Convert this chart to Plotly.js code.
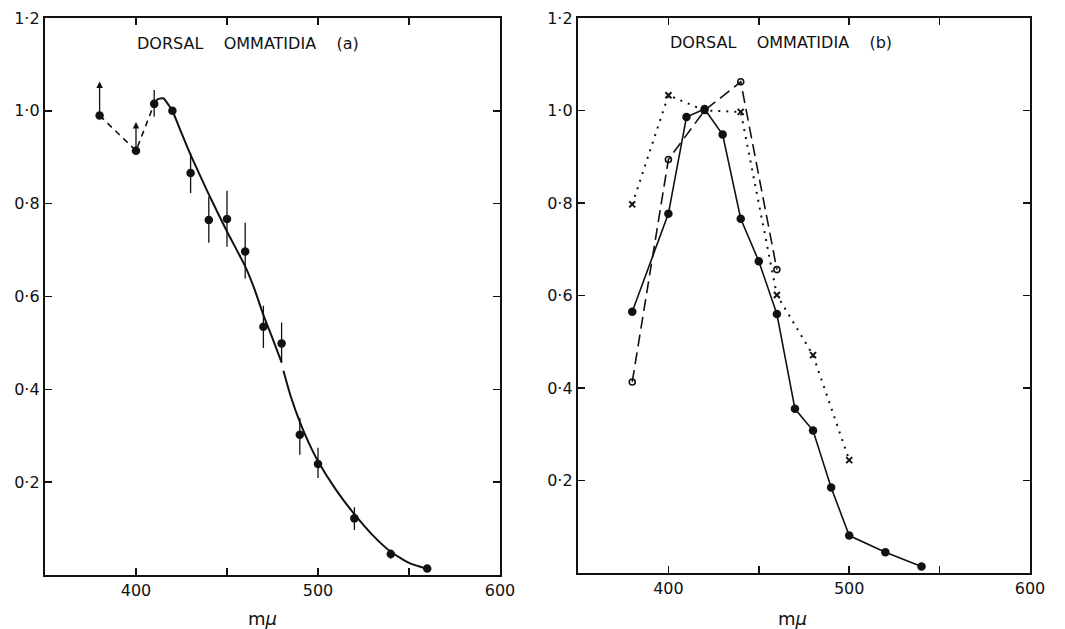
<!DOCTYPE html>
<html>
<head>
<meta charset="utf-8">
<script src="https://cdn.plot.ly/plotly-3.0.1.min.js"></script>
<style>html,body{margin:0;padding:0;background:#fff;}#chart{width:1065px;height:629px;}</style>
</head>
<body>
<div id="chart"></div>
<script>
// ---- Panel (a) data ----
const aX = [380, 400, 410, 420, 430, 440, 450, 460, 470, 480, 490, 500, 520, 540, 560];
const aY = [0.99, 0.914, 1.015, 1.0, 0.866, 0.765, 0.767, 0.697, 0.535, 0.499, 0.302, 0.239, 0.122, 0.045, 0.014];
const aErrPlus  = [0, 0, 0.03, 0, 0.043, 0.05, 0.061, 0.062, 0.045, 0.045, 0.036, 0.035, 0.024, 0.01, 0];
const aErrMinus = [0, 0, 0.028, 0, 0.043, 0.049, 0.06, 0.058, 0.046, 0.042, 0.043, 0.03, 0.025, 0.01, 0];
const aArrowX = [380, 400];
const aArrowFrom = [0.99, 0.914];
const aArrowTo = [1.063, 0.976];
const aDashX = [380, 400, 410];
const aDashY = [0.99, 0.914, 1.015];
const aCurveX = [409, 412, 415, 418, 420, 425, 430, 440, 450, 460, 465, 470, 475, 480, null, 481, 485, 490, 495, 500, 510, 520, 530, 540, 550, 560];
const aCurveY = [1.01, 1.025, 1.027, 1.012, 1.0, 0.952, 0.905, 0.82, 0.74, 0.665, 0.617, 0.56, 0.51, 0.458, null, 0.44, 0.385, 0.33, 0.284, 0.245, 0.183, 0.131, 0.086, 0.05, 0.026, 0.013];

// ---- Panel (b) data ----
const bSolidX = [380, 400, 410, 420, 430, 440, 450, 460, 470, 480, 490, 500, 520, 540];
const bSolidY = [0.565, 0.777, 0.986, 1.003, 0.948, 0.766, 0.674, 0.56, 0.355, 0.308, 0.185, 0.081, 0.045, 0.014];
const bOpenX = [380, 400, 420, 440, 460];
const bOpenY = [0.413, 0.894, 1.0, 1.062, 0.656];
const bCrossX = [380, 400, 420, 440, 460, 480, 500];
const bCrossY = [0.797, 1.033, 1.0, 0.997, 0.601, 0.471, 0.244];

// ---- Axis labels ----
const xTickVals = [400, 450, 500, 550, 600];
const xTickText = ['400', '', '500', '', '600'];
const yTickVals = [0.2, 0.4, 0.6, 0.8, 1.0, 1.2];
const yTickText = ['0·2', '0·4', '0·6', '0·8', '1·0', '1·2'];
const titleA = 'DORSAL\u00A0\u00A0\u00A0\u00A0OMMATIDIA\u00A0\u00A0\u00A0\u00A0(a)';
const titleB = 'DORSAL\u00A0\u00A0\u00A0\u00A0OMMATIDIA\u00A0\u00A0\u00A0\u00A0(b)';
const xLabel = 'm<i>μ</i>';

const FONT = 'DejaVu Sans, sans-serif';

const traces = [
  {x: aDashX, y: aDashY, xaxis: 'x', yaxis: 'y', mode: 'lines',
   line: {color: '#111', width: 1.6, dash: '6px,5px'}, hoverinfo: 'skip'},
  {x: aCurveX, y: aCurveY, xaxis: 'x', yaxis: 'y', mode: 'lines', connectgaps: false,
   line: {color: '#111', width: 2, shape: 'spline', smoothing: 0.5}, hoverinfo: 'skip'},
  {x: aX, y: aY, xaxis: 'x', yaxis: 'y', mode: 'markers',
   marker: {color: '#111', size: 8.5},
   error_y: {type: 'data', symmetric: false, array: aErrPlus, arrayminus: aErrMinus,
             color: '#111', thickness: 1.3, width: 0}},
  {x: bCrossX, y: bCrossY, xaxis: 'x2', yaxis: 'y2', mode: 'lines+markers',
   line: {color: '#111', width: 2, dash: '2px,6px'},
   marker: {symbol: 'x-thin', size: 6, line: {color: '#111', width: 2}}},
  {x: bOpenX, y: bOpenY, xaxis: 'x2', yaxis: 'y2', mode: 'lines+markers',
   line: {color: '#111', width: 1.6, dash: '12px,6px'},
   marker: {symbol: 'circle-open', size: 6, color: '#111', line: {color: '#111', width: 1.6}}},
  {x: bSolidX, y: bSolidY, xaxis: 'x2', yaxis: 'y2', mode: 'lines+markers',
   line: {color: '#111', width: 1.6},
   marker: {color: '#111', size: 8.5}}
];

const xCommon = {
  range: [350, 600], tickmode: 'array', tickvals: xTickVals, ticktext: xTickText,
  ticks: 'inside', ticklen: 7, tickwidth: 1.5, tickcolor: '#111',
  showline: true, linecolor: '#111', linewidth: 2.2, mirror: 'ticks',
  showgrid: false, zeroline: false, tickfont: {family: FONT, size: 16, color: '#111'}
};
const yCommon = {
  range: [0, 1.2], tickmode: 'array', tickvals: yTickVals, ticktext: yTickText,
  ticks: 'inside', ticklen: 7, tickwidth: 1.5, tickcolor: '#111',
  showline: true, linecolor: '#111', linewidth: 2.2, mirror: 'ticks',
  showgrid: false, zeroline: false, tickfont: {family: FONT, size: 16, color: '#111'}
};

const annotations = [
  {xref: 'x domain', yref: 'y domain', x: 0.198, y: 0.955, text: titleA, showarrow: false,
   font: {family: FONT, size: 16, color: '#111'}, xanchor: 'left', yanchor: 'middle'},
  {xref: 'x2 domain', yref: 'y2 domain', x: 0.199, y: 0.955, text: titleB, showarrow: false,
   font: {family: FONT, size: 16, color: '#111'}, xanchor: 'left', yanchor: 'middle'},
  {xref: 'x domain', yref: 'paper', x: 0.477, y: 1 - 618/629, text: xLabel, showarrow: false,
   font: {family: FONT, size: 18, color: '#111'}, xanchor: 'center', yanchor: 'middle'},
  {xref: 'x2 domain', yref: 'paper', x: 0.475, y: 1 - 618/629, text: xLabel, showarrow: false,
   font: {family: FONT, size: 18, color: '#111'}, xanchor: 'center', yanchor: 'middle'}
];
aArrowX.forEach((xv, i) => {
  annotations.push({xref: 'x', yref: 'y', axref: 'x', ayref: 'y',
    x: xv, y: aArrowTo[i], ax: xv, ay: aArrowFrom[i], text: '', showarrow: true,
    arrowhead: 2, arrowsize: 1, arrowwidth: 1.3, arrowcolor: '#111', standoff: 0, startstandoff: 0});
});

const layout = {
  width: 1065, height: 629, showlegend: false,
  paper_bgcolor: '#fff', plot_bgcolor: '#fff',
  margin: {l: 0, r: 0, t: 0, b: 0},
  xaxis: Object.assign({}, xCommon, {domain: [45/1065, 500/1065], anchor: 'y'}),
  yaxis: Object.assign({}, yCommon, {domain: [1 - 575/629, 1 - 18/629], anchor: 'x'}),
  xaxis2: Object.assign({}, xCommon, {domain: [578/1065, 1030/1065], anchor: 'y2'}),
  yaxis2: Object.assign({}, yCommon, {domain: [1 - 573/629, 1 - 18/629], anchor: 'x2'}),
  annotations: annotations
};

Plotly.newPlot('chart', traces, layout, {displayModeBar: false, staticPlot: true});
</script>
</body>
</html>
